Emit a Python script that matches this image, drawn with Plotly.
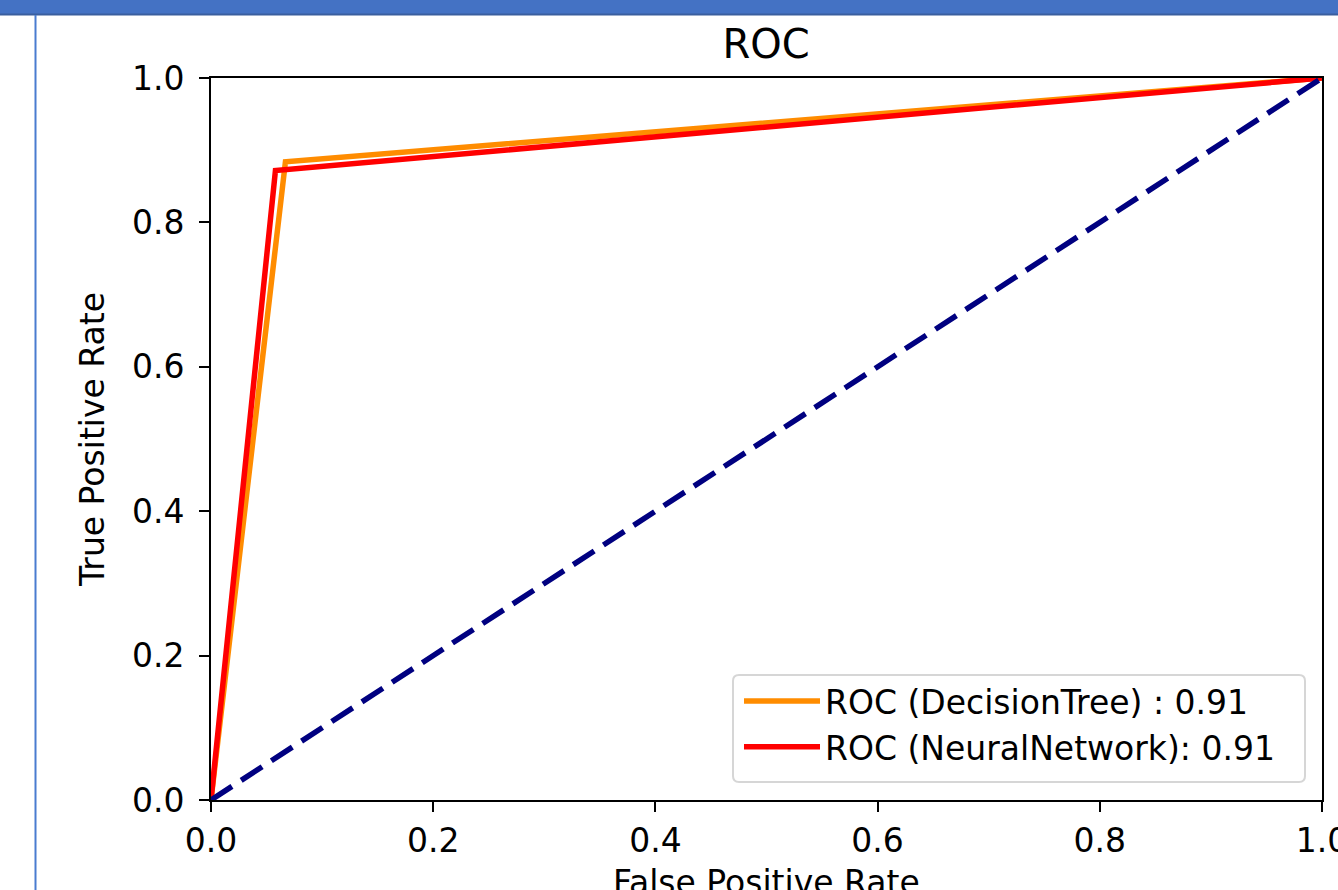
import plotly.graph_objects as go

# ---- data ----
fpr_dt = [0.0, 0.067, 1.0]
tpr_dt = [0.0, 0.884, 1.0]
fpr_nn = [0.0, 0.058, 1.0]
tpr_nn = [0.0, 0.872, 1.0]
diag_x = [0.0, 1.0]
diag_y = [0.0, 1.0]
label_dt = "ROC (DecisionTree) : 0.91"
label_nn = "ROC (NeuralNetwork): 0.91"
tick_vals = [0.0, 0.2, 0.4, 0.6, 0.8, 1.0]

W, H = 1338, 890
L, R, T, B = 211, 16, 78, 90
PW, PH = W - L - R, H - T - B
FONT = "DejaVu Sans"
FS = 33

fig = go.Figure()
fig.add_trace(go.Scatter(x=fpr_dt, y=tpr_dt, mode="lines", name=label_dt,
                         legendgroup="dt",
                         line=dict(color="#FF8C00", width=5.5)))
fig.add_trace(go.Scatter(x=fpr_nn, y=tpr_nn, mode="lines", name=label_nn,
                         legendgroup="nn",
                         line=dict(color="#FF0000", width=5.5)))
fig.add_trace(go.Scatter(x=diag_x, y=diag_y, mode="lines", showlegend=False,
                         line=dict(color="#000080", width=5.5, dash="25px,11px")))

def px_x(p):
    return (p - L) / PW

def px_y(p):
    return (H - B - p) / PH

axis_common = dict(
    range=[0, 1], tickvals=tick_vals, tickformat=".1f",
    showgrid=False, zeroline=False,
    showline=True, linecolor="black", linewidth=2, mirror=True,
    ticks="outside", ticklen=10, tickwidth=2, tickcolor="black",
    tickfont=dict(family=FONT, size=FS, color="black"),
    ticklabeloverflow="allow",
)

# rounded legend frame (matplotlib style)
bx0, bx1, by0, by1 = px_x(733), px_x(1305), px_y(782), px_y(675)
def rounded_rect(x0, x1, y0, y1, rpx):
    rx = rpx / PW
    ry = rpx / PH
    return (f"M {x0+rx},{y0} L {x1-rx},{y0} Q {x1},{y0} {x1},{y0+ry} "
            f"L {x1},{y1-ry} Q {x1},{y1} {x1-rx},{y1} L {x0+rx},{y1} "
            f"Q {x0},{y1} {x0},{y1-ry} L {x0},{y0+ry} Q {x0},{y0} {x0+rx},{y0} Z")

fig.update_layout(
    width=W, height=H,
    margin=dict(l=L, r=R, t=T, b=B, autoexpand=False),
    paper_bgcolor="white", plot_bgcolor="white",
    font=dict(family=FONT, color="black"),
    title=dict(text="ROC", x=px_x(766), xref="paper", xanchor="center",
               y=1 - 44 / H, yref="container", yanchor="middle",
               font=dict(family=FONT, size=40, color="black")),
    xaxis=dict(**axis_common, ticklabelstandoff=0),
    yaxis=dict(**axis_common, ticklabelstandoff=8,
               title=dict(text="True Positive Rate", standoff=17,
                          font=dict(family=FONT, size=FS, color="black"))),
    legend=dict(x=px_x(739), y=px_y(673), xanchor="left", yanchor="top",
                bgcolor="rgba(0,0,0,0)", borderwidth=0,
                font=dict(family=FONT, size=FS, color="black"),
                itemwidth=76, traceorder="normal", tracegroupgap=5),
    annotations=[dict(text="False Positive Rate", xref="paper", yref="paper",
                      x=0.5, y=px_y(882), xanchor="center", yanchor="middle",
                      showarrow=False, font=dict(family=FONT, size=FS, color="black"))],
    shapes=[
        dict(type="path", xref="paper", yref="paper", layer="above",
             path=rounded_rect(bx0, bx1, by0, by1, 6),
             fillcolor="rgba(255,255,255,0.8)", line=dict(color="#d6d6d6", width=2)),
        dict(type="rect", xref="paper", yref="paper", layer="above",
             x0=px_x(0), x1=px_x(W), y0=px_y(0), y1=px_y(14),
             fillcolor="#4472C4", line=dict(width=0)),
        dict(type="line", xref="paper", yref="paper", layer="above",
             x0=px_x(0), x1=px_x(W), y0=px_y(14.5), y1=px_y(14.5),
             line=dict(color="#3A5E9E", width=2)),
        dict(type="line", xref="paper", yref="paper", layer="above",
             x0=px_x(35.5), x1=px_x(35.5), y0=px_y(15), y1=px_y(H),
             line=dict(color="#4A7CD0", width=2)),
    ],
)

fig.write_html("out.html", config={"displayModeBar": False},
               post_script="document.body.style.margin='0';")
